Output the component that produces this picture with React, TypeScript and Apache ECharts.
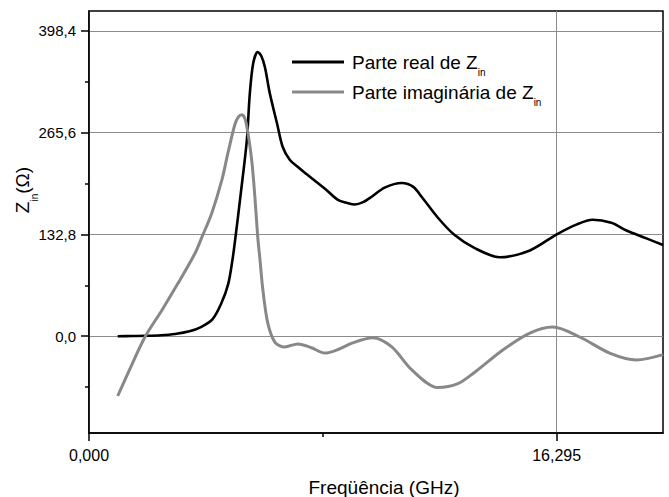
import React, { useEffect, useRef } from 'react';
import * as echarts from 'echarts';

// Frequency (GHz) and real part of Zin (Ohm)
const freqReal = [1.0, 1.5, 2.0, 2.5, 3.0, 3.5, 3.9, 4.3, 4.6, 4.85, 5.0, 5.1, 5.3, 5.5, 5.6, 5.72, 5.88, 6.0, 6.13, 6.3, 6.55, 6.75, 7.0, 7.28, 7.6, 7.97, 8.3, 8.67, 9.0, 9.26, 9.55, 9.85, 10.3, 10.9, 11.3, 11.59, 12.15, 12.74, 13.44, 14.31, 15.36, 16.3, 17.0, 17.55, 18.2, 18.73, 19.4, 20.0];
const realPart = [0, 0.3, 0.6, 1.3, 3, 6.5, 12, 22, 42, 68, 100, 128, 190, 256, 315, 356, 371, 366, 351, 317, 278, 247, 230, 221, 211, 200, 190, 178, 174, 172, 175, 182, 194, 200, 195, 182, 155, 132, 115, 103, 112, 133, 146, 152, 148, 138, 128, 119];

// Frequency (GHz) and imaginary part of Zin (Ohm)
const freqImag = [1.0, 1.36, 1.95, 2.54, 3.1, 3.69, 3.93, 4.28, 4.63, 4.84, 5.08, 5.2, 5.33, 5.45, 5.58, 5.68, 5.78, 5.88, 5.95, 6.06, 6.23, 6.48, 6.82, 7.28, 7.75, 8.22, 8.7, 9.16, 9.89, 10.55, 11.25, 12.15, 12.85, 13.44, 14.42, 15.36, 16.16, 17.1, 18.14, 19.08, 20.0];
const imagPart = [-78, -48, -1, 34, 69, 108, 129, 161, 204, 239, 276, 286, 289, 282, 255, 226, 182, 129, 103, 60, 17, -8, -14, -10, -15, -22, -17, -9, -2, -14, -44, -67, -62, -47, -18, 4, 12, -1, -22, -31, -24];

const yTickValues = [0, 132.8, 265.6, 398.4];
const yMinorTicks = [-66.4, 66.4, 199.2, 332];
const xTickValues = [0, 16.295];
const xMinorTicks = [8.1475];

export default function App() {
  const ref = useRef<HTMLDivElement>(null);
  useEffect(() => {
    document.body.style.margin = '0';
    const chart = echarts.init(ref.current!, null, { renderer: 'svg' });
    const font = "'Liberation Sans', Arial, sans-serif";
    const black = '#000';
    chart.setOption({
      animation: false,
      grid: { left: 89, right: 6, top: 11, bottom: 64, show: true, borderColor: black, borderWidth: 1.5, backgroundColor: 'transparent' },
      legend: {
        orient: 'vertical', left: 292, top: 47, padding: 0, icon: 'rect', itemWidth: 52, itemHeight: 3, itemGap: 0,
        textStyle: { fontSize: 19, fontFamily: font, color: black, lineHeight: 30, padding: [0, 0, 0, 3],
          rich: { s: { fontSize: 10, fontFamily: font, color: black, verticalAlign: 'bottom', lineHeight: 10 } } },
        formatter: (name: string) => name === 'real' ? 'Parte real de Z{s|in}' : 'Parte imaginária de Z{s|in}',
        data: ['real', 'imag'],
      },
      xAxis: [
        {
          type: 'value', min: 0, max: 20, position: 'bottom',
          axisLine: { show: true, onZero: false, lineStyle: { color: black, width: 1.5 } },
          axisTick: { show: true, customValues: xTickValues, length: 8, lineStyle: { color: black, width: 1.5 } },
          axisLabel: { customValues: xTickValues, formatter: (v: number) => v.toFixed(3).replace('.', ','), fontSize: 16, color: black, fontFamily: font, margin: 14 },
          splitLine: { show: true, lineStyle: { color: '#8c8c8c', width: 1 } },
        },
        {
          type: 'value', min: 0, max: 20, position: 'bottom',
          axisLine: { show: false, onZero: false },
          axisTick: { show: true, customValues: xMinorTicks, length: 4, lineStyle: { color: black, width: 1.5 } },
          axisLabel: { show: false },
          splitLine: { show: false },
        },
      ],
      yAxis: [
        {
          type: 'value', min: -126.3, max: 424.5, position: 'left',
          axisLine: { show: true, onZero: false, lineStyle: { color: black, width: 1.5 } },
          axisTick: { show: true, customValues: yTickValues, length: 8, lineStyle: { color: black, width: 1.5 } },
          axisLabel: { customValues: yTickValues, formatter: (v: number) => v.toFixed(1).replace('.', ','), fontSize: 15, color: black, fontFamily: font, margin: 13 },
          splitLine: { show: true, lineStyle: { color: '#8c8c8c', width: 1 } },
        },
        {
          type: 'value', min: -126.3, max: 424.5, position: 'left',
          axisLine: { show: false, onZero: false },
          axisTick: { show: true, customValues: yMinorTicks, length: 4, lineStyle: { color: black, width: 1.5 } },
          axisLabel: { show: false },
          splitLine: { show: false },
        },
      ],
      series: [
        {
          name: 'real', type: 'line', xAxisIndex: 0, yAxisIndex: 0, showSymbol: false, smooth: 0.3,
          color: '#000', lineStyle: { color: '#000', width: 2.6 },
          data: freqReal.map((f, i) => [f, realPart[i]]),
        },
        {
          name: 'imag', type: 'line', xAxisIndex: 0, yAxisIndex: 0, showSymbol: false, smooth: 0.3,
          color: '#888888', lineStyle: { color: '#888888', width: 3 },
          data: freqImag.map((f, i) => [f, imagPart[i]]),
        },
      ],
      graphic: [
        { type: 'text', x: 384, y: 487, style: { text: 'Freqüência (GHz)', fontSize: 19, fontFamily: font, fill: black, align: 'center', verticalAlign: 'middle' } },
        {
          type: 'text', x: 22, y: 190, rotation: Math.PI / 2,
          style: {
            text: 'Z{s|in}(Ω)', fontSize: 19, fontFamily: font, fill: black, align: 'center', verticalAlign: 'middle', lineHeight: 34,
            rich: { s: { fontSize: 10, fontFamily: font, fill: black, verticalAlign: 'bottom', lineHeight: 10 } },
          },
        },
      ],
    });
    return () => chart.dispose();
  }, []);
  return <div ref={ref} style={{ width: 669, height: 497 }} />;
}
